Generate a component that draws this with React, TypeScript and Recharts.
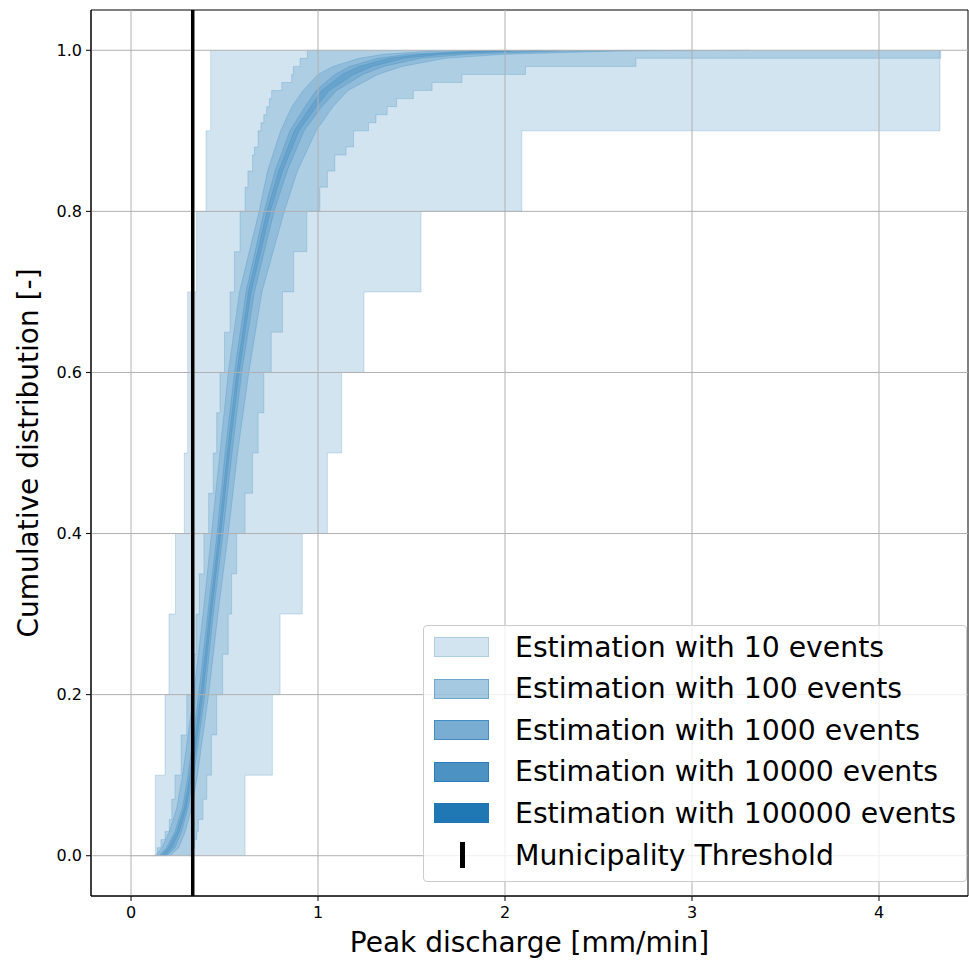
import React from "react";
import { ComposedChart, Area, XAxis, YAxis, ReferenceLine, ReferenceArea, Legend } from "recharts";

// cumulative levels (y) and band edges (x, mm/min) for each estimation
const levels10 = [0, 0.1, 0.2, 0.3, 0.4, 0.5, 0.6, 0.7, 0.8, 0.9, 1.0];
const left10 = [0, 0.13, 0.182, 0.203, 0.238, 0.285, 0.303, 0.303, 0.351, 0.401, 0.426];
const right10 = [0.61, 0.61, 0.756, 0.797, 0.916, 1.05, 1.127, 1.246, 1.551, 2.09, 4.326];

const levels100 = [
  0, 0.01, 0.02, 0.03, 0.045, 0.07, 0.1, 0.15, 0.2, 0.25, 0.3, 0.35, 0.4, 0.45, 0.5, 0.55, 0.6, 0.65,
  0.7, 0.75, 0.8, 0.83, 0.85, 0.87, 0.88, 0.9, 0.91, 0.92, 0.93, 0.94, 0.95, 0.96, 0.97, 0.98, 0.99, 1.0,
];
const left100 = [
  0.12, 0.14, 0.16, 0.182, 0.205, 0.218, 0.235, 0.268, 0.298, 0.325, 0.348, 0.365, 0.39, 0.415, 0.44,
  0.458, 0.476, 0.5, 0.53, 0.553, 0.583, 0.61, 0.625, 0.65, 0.66, 0.68, 0.695, 0.71, 0.725, 0.74, 0.752,
  0.806, 0.859, 0.868, 0.904, 0.943,
];
const right100 = [
  0.31, 0.325, 0.34, 0.351, 0.36, 0.385, 0.405, 0.43, 0.458, 0.49, 0.52, 0.538, 0.565, 0.61, 0.65, 0.68,
  0.71, 0.75, 0.81, 0.87, 0.94, 1.01, 1.05, 1.09, 1.15, 1.19, 1.27, 1.31, 1.37, 1.42, 1.51, 1.61, 1.77,
  2.11, 2.7, 4.33,
];

const levelsFine = [
  0, 0.01, 0.03, 0.06, 0.1, 0.2, 0.3, 0.4, 0.5, 0.6, 0.7, 0.8, 0.85, 0.9, 0.93, 0.95, 0.97, 0.98, 0.99,
  0.995, 0.999, 1.0,
];
const left1000 = [
  0.13, 0.165, 0.205, 0.245, 0.275, 0.335, 0.385, 0.43, 0.475, 0.52, 0.58, 0.685, 0.73, 0.8, 0.86, 0.92,
  1.0, 1.08, 1.22, 1.35, 1.6, 2.0,
];
const right1000 = [
  0.21, 0.255, 0.29, 0.325, 0.355, 0.415, 0.465, 0.52, 0.57, 0.63, 0.7, 0.82, 0.89, 0.99, 1.08, 1.16,
  1.32, 1.45, 1.68, 2.0, 2.6, 3.31,
];
const left10000 = [
  0.15, 0.19, 0.235, 0.275, 0.305, 0.362, 0.41, 0.46, 0.503, 0.553, 0.615, 0.712, 0.77, 0.85, 0.93, 0.99,
  1.09, 1.17, 1.32, 1.48, 1.8, 2.2,
];
const right10000 = [
  0.19, 0.235, 0.27, 0.305, 0.335, 0.395, 0.44, 0.492, 0.54, 0.592, 0.66, 0.765, 0.835, 0.925, 1.02,
  1.1, 1.24, 1.35, 1.55, 1.8, 2.3, 3.0,
];
const left100000 = [
  0.16, 0.2, 0.245, 0.285, 0.315, 0.373, 0.42, 0.47, 0.515, 0.566, 0.628, 0.727, 0.79, 0.873, 0.96, 1.02,
  1.13, 1.22, 1.38, 1.56, 1.9, 2.3,
];
const right100000 = [
  0.18, 0.22, 0.258, 0.296, 0.326, 0.384, 0.43, 0.48, 0.526, 0.578, 0.642, 0.745, 0.81, 0.898, 0.99,
  1.06, 1.19, 1.29, 1.46, 1.67, 2.05, 2.8,
];

const threshold = 0.33;
const xTicks = [0, 1, 2, 3, 4];
const yTicks = [0, 0.2, 0.4, 0.6, 0.8, 1.0];
const legendLabels = [
  "Estimation with 10 events",
  "Estimation with 100 events",
  "Estimation with 1000 events",
  "Estimation with 10000 events",
  "Estimation with 100000 events",
  "Municipality Threshold",
];
const legendAlphas = [0.2, 0.4, 0.6, 0.8, 1];

const BLUE = "#1f77b4";
const FONT = "'DejaVu Sans', sans-serif";
const xDomain = [-0.214, 4.476];
const yDomain = [-0.05, 1.05];

function toBand(levels: number[], left: number[], right: number[]) {
  return levels.map((y, i) => ({ y, x: [left[i], right[i]] }));
}

const bands = [
  { data: toBand(levels10, left10, right10), type: "stepAfter" },
  { data: toBand(levels100, left100, right100), type: "stepAfter" },
  { data: toBand(levelsFine, left1000, right1000), type: "linear" },
  { data: toBand(levelsFine, left10000, right10000), type: "linear" },
  { data: toBand(levelsFine, left100000, right100000), type: "linear" },
];

function renderLegend() {
  return (
    <div
      style={{
        position: "relative",
        width: 544,
        height: 257,
        boxSizing: "border-box",
        background: "rgba(255,255,255,0.8)",
        border: "1px solid #cccccc",
        borderRadius: 4,
        fontFamily: FONT,
      }}
    >
      {legendLabels.map((label, i) => {
        const cy = 21 + i * 41.6;
        return (
          <div key={label}>
            {i < 5 ? (
              <div
                style={{
                  position: "absolute",
                  left: 10,
                  top: cy - 10,
                  width: 55,
                  height: 20,
                  boxSizing: "border-box",
                  background: `rgba(31,119,180,${legendAlphas[i]})`,
                  border: `1.5px solid rgba(31,119,180,${legendAlphas[i]})`,
                }}
              />
            ) : (
              <div style={{ position: "absolute", left: 36, top: cy - 13, width: 5, height: 26, background: "#000" }} />
            )}
            <div
              style={{
                position: "absolute",
                left: 91,
                top: cy - 13.5,
                fontSize: 28.3,
                lineHeight: "28px",
                color: "#000",
                whiteSpace: "nowrap",
              }}
            >
              {label}
            </div>
          </div>
        );
      })}
    </div>
  );
}

export default function App() {
  return (
    <div style={{ position: "absolute", left: 0, top: 0, width: 969, height: 960, background: "#fff" }}>
      <ComposedChart
        width={969}
        height={960}
        layout="vertical"
        margin={{ top: 10, right: 1, bottom: 0, left: 0 }}
        style={{ fontFamily: FONT }}
      >
        <XAxis
          type="number"
          domain={xDomain}
          allowDataOverflow
          ticks={xTicks}
          height={64}
          tickSize={5}
          tickMargin={6}
          stroke="#000"
          tick={{ fontSize: 16, fill: "#000", fontFamily: FONT }}
          label={{ value: "Peak discharge [mm/min]", position: "insideBottom", offset: 8, fontSize: 28, fill: "#000", fontFamily: FONT }}
        />
        <YAxis
          type="number"
          dataKey="y"
          domain={yDomain}
          allowDataOverflow
          reversed
          ticks={yTicks}
          width={91}
          tickSize={5}
          tickMargin={4}
          stroke="#000"
          tickFormatter={(v: number) => v.toFixed(1)}
          tick={{ fontSize: 16, fill: "#000", fontFamily: FONT }}
          label={{
            value: "Cumulative distribution [-]",
            position: "insideLeft",
            angle: -90,
            offset: 28,
            fontSize: 28,
            fill: "#000",
            fontFamily: FONT,
            style: { textAnchor: "middle" },
          }}
        />
        {bands.map((b, i) => (
          <Area
            key={i}
            data={b.data}
            dataKey="x"
            type={b.type as any}
            fill={BLUE}
            fillOpacity={0.2}
            stroke={BLUE}
            strokeOpacity={0.2}
            strokeWidth={1}
            dot={false}
            activeDot={false}
            isAnimationActive={false}
          />
        ))}
        {xTicks.map((t) => (
          <ReferenceLine key={"gx" + t} x={t} stroke="#b0b0b0" strokeWidth={1} />
        ))}
        {yTicks.map((t) => (
          <ReferenceLine key={"gy" + t} y={t} stroke="#b0b0b0" strokeWidth={1} />
        ))}
        <ReferenceLine x={threshold} stroke="#000" strokeWidth={3.5} />
        <ReferenceArea
          x1={xDomain[0]}
          x2={xDomain[1]}
          y1={yDomain[0]}
          y2={yDomain[1]}
          fill="none"
          fillOpacity={0}
          stroke="#000"
          strokeWidth={1}
        />
        <Legend
          content={renderLegend}
          verticalAlign="middle"
          align="center"
          wrapperStyle={{ position: "absolute", left: 423, top: 625, width: 544, height: 257 }}
        />
      </ComposedChart>
    </div>
  );
}
